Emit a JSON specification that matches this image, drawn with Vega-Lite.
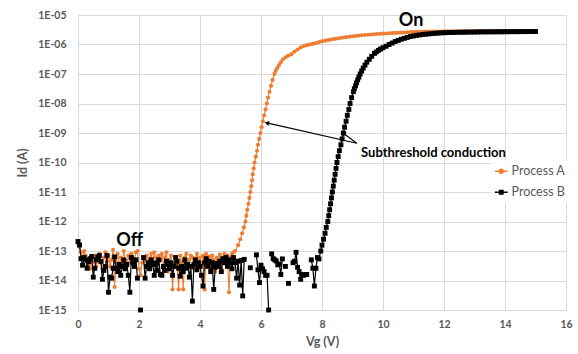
{
"$schema":"https://vega.github.io/schema/vega-lite/v6.json",
"width":488,"height":295,
"autosize":"none",
"padding":{"left":78,"top":15,"right":12,"bottom":44},
"background":"white",
"datasets":{
"iv":[
{"s":"A","v":0,"i":1.8e-13},{"s":"A","v":0.05,"i":1.4e-13},{"s":"A","v":0.1,"i":9e-14},{"s":"A","v":0.15,"i":6e-14},{"s":"A","v":0.2,"i":1e-13},{"s":"A","v":0.25,"i":7e-14},{"s":"A","v":0.3,"i":3e-14},{"s":"A","v":0.35,"i":5e-14},{"s":"A","v":0.4,"i":2.5e-14},{"s":"A","v":0.45,"i":6e-14},{"s":"A","v":0.5,"i":4e-14},{"s":"A","v":0.55,"i":7e-14},{"s":"A","v":0.6,"i":3e-14},{"s":"A","v":0.65,"i":5.5e-14},{"s":"A","v":0.7,"i":8e-14},{"s":"A","v":0.75,"i":4e-14},{"s":"A","v":0.8,"i":2.5e-14},{"s":"A","v":0.85,"i":6e-14},{"s":"A","v":0.9,"i":9e-14},{"s":"A","v":0.95,"i":4.5e-14},
{"s":"A","v":1,"i":7e-14},{"s":"A","v":1.05,"i":3e-14},{"s":"A","v":1.1,"i":5e-14},{"s":"A","v":1.15,"i":1.1e-13},{"s":"A","v":1.2,"i":6e-15},{"s":"A","v":1.25,"i":4e-14},{"s":"A","v":1.3,"i":8e-14},{"s":"A","v":1.35,"i":3e-14},{"s":"A","v":1.4,"i":6e-14},{"s":"A","v":1.45,"i":4e-14},{"s":"A","v":1.5,"i":1e-13},{"s":"A","v":1.55,"i":5e-14},{"s":"A","v":1.6,"i":3e-14},{"s":"A","v":1.65,"i":7e-14},{"s":"A","v":1.7,"i":4e-14},{"s":"A","v":1.75,"i":8e-14},{"s":"A","v":1.8,"i":3.5e-14},{"s":"A","v":1.85,"i":5.5e-14},{"s":"A","v":1.9,"i":9e-14},{"s":"A","v":1.95,"i":1e-13},
{"s":"A","v":2,"i":2.5e-14},{"s":"A","v":2.05,"i":1.5e-14},{"s":"A","v":2.1,"i":4e-14},{"s":"A","v":2.15,"i":6e-14},{"s":"A","v":2.2,"i":5e-14},{"s":"A","v":2.25,"i":7e-14},{"s":"A","v":2.3,"i":3e-14},{"s":"A","v":2.35,"i":5.5e-14},{"s":"A","v":2.4,"i":8e-14},{"s":"A","v":2.45,"i":4e-14},{"s":"A","v":2.5,"i":9e-14},{"s":"A","v":2.55,"i":6e-14},{"s":"A","v":2.6,"i":3.5e-14},{"s":"A","v":2.65,"i":7e-14},{"s":"A","v":2.7,"i":5e-14},{"s":"A","v":2.75,"i":8e-14},{"s":"A","v":2.8,"i":3e-14},{"s":"A","v":2.85,"i":6e-14},{"s":"A","v":2.9,"i":9e-14},{"s":"A","v":2.95,"i":2e-14},
{"s":"A","v":3,"i":5e-14},{"s":"A","v":3.05,"i":7e-14},{"s":"A","v":3.1,"i":5e-15},{"s":"A","v":3.15,"i":4e-14},{"s":"A","v":3.2,"i":6e-14},{"s":"A","v":3.25,"i":3e-14},{"s":"A","v":3.3,"i":5e-15},{"s":"A","v":3.35,"i":7e-14},{"s":"A","v":3.4,"i":4e-14},{"s":"A","v":3.45,"i":5e-15},{"s":"A","v":3.5,"i":6e-14},{"s":"A","v":3.55,"i":8e-14},{"s":"A","v":3.6,"i":3e-14},{"s":"A","v":3.65,"i":5e-14},{"s":"A","v":3.7,"i":7e-14},{"s":"A","v":3.75,"i":6e-14},{"s":"A","v":3.8,"i":2.5e-14},{"s":"A","v":3.85,"i":5.5e-14},{"s":"A","v":3.9,"i":8e-14},{"s":"A","v":3.95,"i":4e-14},
{"s":"A","v":4,"i":6e-14},{"s":"A","v":4.05,"i":3e-14},{"s":"A","v":4.1,"i":7e-14},{"s":"A","v":4.15,"i":5e-15},{"s":"A","v":4.2,"i":8e-14},{"s":"A","v":4.25,"i":4e-14},{"s":"A","v":4.3,"i":6.5e-14},{"s":"A","v":4.35,"i":3e-14},{"s":"A","v":4.4,"i":7e-14},{"s":"A","v":4.45,"i":5e-14},{"s":"A","v":4.5,"i":2e-14},{"s":"A","v":4.55,"i":6e-14},{"s":"A","v":4.6,"i":4e-14},{"s":"A","v":4.65,"i":7.5e-14},{"s":"A","v":4.7,"i":2.5e-14},{"s":"A","v":4.75,"i":5.5e-14},{"s":"A","v":4.8,"i":8e-14},{"s":"A","v":4.85,"i":4.5e-14},{"s":"A","v":4.9,"i":7e-14},{"s":"A","v":4.95,"i":4e-15},
{"s":"A","v":5,"i":6e-14},{"s":"A","v":5.05,"i":8e-14},{"s":"A","v":5.1,"i":9e-14},
{"s":"A","v":5.15,"i":1e-13},{"s":"A","v":5.25,"i":1.58e-13},{"s":"A","v":5.32,"i":2.51e-13},{"s":"A","v":5.38,"i":3.98e-13},{"s":"A","v":5.44,"i":6.31e-13},{"s":"A","v":5.49,"i":1e-12},{"s":"A","v":5.52,"i":1.58e-12},{"s":"A","v":5.55,"i":2.51e-12},{"s":"A","v":5.59,"i":3.98e-12},{"s":"A","v":5.62,"i":6.31e-12},{"s":"A","v":5.65,"i":1e-11},{"s":"A","v":5.68,"i":1.58e-11},{"s":"A","v":5.71,"i":2.51e-11},{"s":"A","v":5.73,"i":3.98e-11},{"s":"A","v":5.76,"i":6.31e-11},{"s":"A","v":5.79,"i":1e-10},{"s":"A","v":5.83,"i":1.58e-10},{"s":"A","v":5.87,"i":2.51e-10},{"s":"A","v":5.9,"i":3.98e-10},{"s":"A","v":5.94,"i":6.31e-10},{"s":"A","v":5.98,"i":1e-9},{"s":"A","v":6.02,"i":1.58e-9},{"s":"A","v":6.06,"i":2.51e-9},{"s":"A","v":6.1,"i":3.98e-9},{"s":"A","v":6.15,"i":6.31e-9},{"s":"A","v":6.19,"i":1e-8},{"s":"A","v":6.23,"i":1.58e-8},{"s":"A","v":6.28,"i":2.51e-8},{"s":"A","v":6.33,"i":3.98e-8},{"s":"A","v":6.38,"i":6.31e-8},{"s":"A","v":6.44,"i":1e-7},{"s":"A","v":6.48,"i":1.26e-7},{"s":"A","v":6.53,"i":1.58e-7},{"s":"A","v":6.59,"i":2e-7},{"s":"A","v":6.65,"i":2.51e-7},{"s":"A","v":6.72,"i":3.16e-7},{"s":"A","v":6.81,"i":3.7e-7},{"s":"A","v":6.9,"i":4.2e-7},{"s":"A","v":7,"i":4.7e-7},
{"s":"A","v":7.1,"i":5.75e-7},{"s":"A","v":7.2,"i":6.8e-7},{"s":"A","v":7.3,"i":7.9e-7},{"s":"A","v":7.4,"i":8.9e-7},{"s":"A","v":7.5,"i":9.5e-7},{"s":"A","v":7.6,"i":1e-6},{"s":"A","v":7.7,"i":1.05e-6},{"s":"A","v":7.8,"i":1.12e-6},{"s":"A","v":7.9,"i":1.2e-6},{"s":"A","v":8,"i":1.29e-6},{"s":"A","v":8.1,"i":1.35e-6},{"s":"A","v":8.2,"i":1.41e-6},{"s":"A","v":8.3,"i":1.48e-6},{"s":"A","v":8.4,"i":1.55e-6},{"s":"A","v":8.5,"i":1.6e-6},{"s":"A","v":8.6,"i":1.66e-6},{"s":"A","v":8.7,"i":1.72e-6},{"s":"A","v":8.8,"i":1.78e-6},{"s":"A","v":8.9,"i":1.84e-6},{"s":"A","v":9,"i":1.9e-6},
{"s":"A","v":9.1,"i":1.95e-6},{"s":"A","v":9.2,"i":2e-6},{"s":"A","v":9.3,"i":2.05e-6},{"s":"A","v":9.4,"i":2.09e-6},{"s":"A","v":9.5,"i":2.14e-6},{"s":"A","v":9.6,"i":2.19e-6},{"s":"A","v":9.7,"i":2.23e-6},{"s":"A","v":9.8,"i":2.26e-6},{"s":"A","v":9.9,"i":2.3e-6},{"s":"A","v":10,"i":2.34e-6},{"s":"A","v":10.1,"i":2.37e-6},{"s":"A","v":10.2,"i":2.41e-6},{"s":"A","v":10.3,"i":2.44e-6},{"s":"A","v":10.4,"i":2.47e-6},{"s":"A","v":10.5,"i":2.5e-6},{"s":"A","v":10.6,"i":2.53e-6},{"s":"A","v":10.7,"i":2.56e-6},{"s":"A","v":10.8,"i":2.6e-6},{"s":"A","v":10.9,"i":2.63e-6},{"s":"A","v":11,"i":2.65e-6},
{"s":"A","v":11.1,"i":2.67e-6},{"s":"A","v":11.2,"i":2.69e-6},{"s":"A","v":11.3,"i":2.71e-6},{"s":"A","v":11.4,"i":2.72e-6},{"s":"A","v":11.5,"i":2.73e-6},{"s":"A","v":11.6,"i":2.74e-6},{"s":"A","v":11.7,"i":2.75e-6},{"s":"A","v":11.8,"i":2.76e-6},{"s":"A","v":11.9,"i":2.77e-6},{"s":"A","v":12,"i":2.78e-6},{"s":"A","v":12.1,"i":2.79e-6},{"s":"A","v":12.2,"i":2.8e-6},{"s":"A","v":12.3,"i":2.8e-6},{"s":"A","v":12.4,"i":2.8e-6},{"s":"A","v":12.5,"i":2.81e-6},{"s":"A","v":12.6,"i":2.81e-6},{"s":"A","v":12.7,"i":2.81e-6},{"s":"A","v":12.8,"i":2.82e-6},{"s":"A","v":12.9,"i":2.82e-6},{"s":"A","v":13,"i":2.82e-6},
{"s":"A","v":13.1,"i":2.82e-6},{"s":"A","v":13.2,"i":2.83e-6},{"s":"A","v":13.3,"i":2.83e-6},{"s":"A","v":13.4,"i":2.83e-6},{"s":"A","v":13.5,"i":2.83e-6},{"s":"A","v":13.6,"i":2.83e-6},{"s":"A","v":13.7,"i":2.84e-6},{"s":"A","v":13.8,"i":2.84e-6},{"s":"A","v":13.9,"i":2.84e-6},{"s":"A","v":14,"i":2.84e-6},{"s":"A","v":14.1,"i":2.84e-6},{"s":"A","v":14.2,"i":2.84e-6},{"s":"A","v":14.3,"i":2.85e-6},{"s":"A","v":14.4,"i":2.85e-6},{"s":"A","v":14.5,"i":2.85e-6},{"s":"A","v":14.6,"i":2.85e-6},{"s":"A","v":14.7,"i":2.85e-6},{"s":"A","v":14.8,"i":2.85e-6},{"s":"A","v":14.9,"i":2.85e-6},{"s":"A","v":15,"i":2.85e-6},
{"s":"B","v":0,"i":2.1e-13},{"s":"B","v":0.05,"i":1.6e-13},{"s":"B","v":0.1,"i":5.5e-14},{"s":"B","v":0.15,"i":3.3e-14},{"s":"B","v":0.2,"i":6e-14},{"s":"B","v":0.25,"i":5e-14},{"s":"B","v":0.3,"i":2.6e-14},{"s":"B","v":0.35,"i":4.4e-14},{"s":"B","v":0.4,"i":5.5e-14},{"s":"B","v":0.45,"i":6.5e-14},{"s":"B","v":0.5,"i":1.3e-14},{"s":"B","v":0.55,"i":2.6e-14},{"s":"B","v":0.6,"i":5e-14},{"s":"B","v":0.65,"i":6.3e-14},{"s":"B","v":0.7,"i":7e-14},{"s":"B","v":0.75,"i":4.4e-14},{"s":"B","v":0.8,"i":1.1e-14},{"s":"B","v":0.85,"i":2.2e-14},{"s":"B","v":0.9,"i":3e-14},{"s":"B","v":0.95,"i":7e-14},
{"s":"B","v":1,"i":4e-15},{"s":"B","v":1.05,"i":1.3e-14},{"s":"B","v":1.1,"i":1.2e-14},{"s":"B","v":1.15,"i":2.6e-14},{"s":"B","v":1.2,"i":6.3e-14},{"s":"B","v":1.25,"i":2.6e-14},{"s":"B","v":1.3,"i":2e-14},{"s":"B","v":1.35,"i":3.5e-14},{"s":"B","v":1.4,"i":1.5e-14},{"s":"B","v":1.45,"i":3e-14},{"s":"B","v":1.5,"i":5e-14},{"s":"B","v":1.55,"i":2.5e-14},{"s":"B","v":1.6,"i":3.5e-14},{"s":"B","v":1.65,"i":1.5e-14},{"s":"B","v":1.7,"i":4e-15},{"s":"B","v":1.75,"i":6e-14},{"s":"B","v":1.8,"i":4e-14},{"s":"B","v":1.85,"i":3e-14},{"s":"B","v":1.9,"i":5e-14},{"s":"B","v":1.95,"i":1.2e-14},
{"s":"B","v":2,"i":null},{"s":"B","v":2.05,"i":1e-15},{"s":"B","v":2.1,"i":null},{"s":"B","v":2.15,"i":6e-14},{"s":"B","v":2.2,"i":1.2e-14},{"s":"B","v":2.25,"i":3e-14},{"s":"B","v":2.3,"i":4e-14},{"s":"B","v":2.35,"i":2.5e-14},{"s":"B","v":2.4,"i":5e-14},{"s":"B","v":2.45,"i":3.5e-14},{"s":"B","v":2.5,"i":1.5e-14},{"s":"B","v":2.55,"i":4e-14},{"s":"B","v":2.6,"i":2.2e-14},{"s":"B","v":2.65,"i":5e-14},{"s":"B","v":2.7,"i":1.6e-14},{"s":"B","v":2.75,"i":1.5e-14},{"s":"B","v":2.8,"i":3e-14},{"s":"B","v":2.85,"i":2.2e-14},{"s":"B","v":2.9,"i":4.5e-14},{"s":"B","v":2.95,"i":3.5e-14},
{"s":"B","v":3,"i":2.5e-14},{"s":"B","v":3.05,"i":4e-14},{"s":"B","v":3.1,"i":1.5e-14},{"s":"B","v":3.15,"i":3e-14},{"s":"B","v":3.2,"i":6e-14},{"s":"B","v":3.25,"i":4.5e-14},{"s":"B","v":3.3,"i":2.6e-14},{"s":"B","v":3.35,"i":1.4e-14},{"s":"B","v":3.4,"i":3e-14},{"s":"B","v":3.45,"i":2e-14},{"s":"B","v":3.5,"i":5e-14},{"s":"B","v":3.55,"i":2.6e-14},{"s":"B","v":3.6,"i":3.5e-14},{"s":"B","v":3.65,"i":1.3e-14},{"s":"B","v":3.7,"i":3e-14},{"s":"B","v":3.75,"i":2e-15},{"s":"B","v":3.8,"i":3.5e-14},{"s":"B","v":3.85,"i":5e-14},{"s":"B","v":3.9,"i":2.3e-14},{"s":"B","v":3.95,"i":4e-14},
{"s":"B","v":4,"i":3e-14},{"s":"B","v":4.05,"i":1.5e-14},{"s":"B","v":4.1,"i":6.5e-15},{"s":"B","v":4.15,"i":4e-14},{"s":"B","v":4.2,"i":5.5e-14},{"s":"B","v":4.25,"i":3e-14},{"s":"B","v":4.3,"i":4.5e-14},{"s":"B","v":4.35,"i":2e-14},{"s":"B","v":4.4,"i":4e-14},{"s":"B","v":4.45,"i":5e-15},{"s":"B","v":4.5,"i":2.8e-14},{"s":"B","v":4.55,"i":3.8e-14},{"s":"B","v":4.6,"i":3e-14},{"s":"B","v":4.65,"i":4.5e-14},{"s":"B","v":4.7,"i":2e-14},{"s":"B","v":4.75,"i":5.5e-14},{"s":"B","v":4.8,"i":4e-14},{"s":"B","v":4.85,"i":6e-14},{"s":"B","v":4.9,"i":3e-14},{"s":"B","v":4.95,"i":5e-14},
{"s":"B","v":5,"i":4e-14},{"s":"B","v":5.05,"i":2.5e-14},{"s":"B","v":5.1,"i":6e-14},{"s":"B","v":5.15,"i":4e-14},{"s":"B","v":5.2,"i":1.2e-14},{"s":"B","v":5.25,"i":4.5e-14},{"s":"B","v":5.3,"i":7e-15},{"s":"B","v":5.35,"i":4.8e-14},{"s":"B","v":5.4,"i":3e-15},{"s":"B","v":5.45,"i":5.2e-14},{"s":"B","v":5.5,"i":null},{"s":"B","v":5.55,"i":null},{"s":"B","v":5.6,"i":null},{"s":"B","v":5.65,"i":2.7e-14},{"s":"B","v":5.7,"i":null},{"s":"B","v":5.75,"i":null},{"s":"B","v":5.8,"i":null},{"s":"B","v":5.85,"i":7.4e-14},{"s":"B","v":5.9,"i":2.3e-14},{"s":"B","v":5.95,"i":8.5e-15},
{"s":"B","v":6,"i":3.3e-14},{"s":"B","v":6.05,"i":2.5e-14},{"s":"B","v":6.1,"i":2e-14},{"s":"B","v":6.15,"i":1.5e-14},{"s":"B","v":6.2,"i":1.5e-14},{"s":"B","v":6.25,"i":1e-15},{"s":"B","v":6.3,"i":null},{"s":"B","v":6.35,"i":8e-14},{"s":"B","v":6.4,"i":5.5e-14},{"s":"B","v":6.45,"i":5e-14},{"s":"B","v":6.5,"i":4.6e-14},{"s":"B","v":6.55,"i":3.4e-14},{"s":"B","v":6.6,"i":3.6e-14},{"s":"B","v":6.65,"i":1.6e-14},{"s":"B","v":6.7,"i":5.4e-14},{"s":"B","v":6.75,"i":null},{"s":"B","v":6.8,"i":3e-14},{"s":"B","v":6.85,"i":null},{"s":"B","v":6.9,"i":8e-15},{"s":"B","v":6.95,"i":null},
{"s":"B","v":7,"i":null},{"s":"B","v":7.05,"i":4e-14},{"s":"B","v":7.1,"i":4.5e-14},{"s":"B","v":7.15,"i":9e-14},{"s":"B","v":7.2,"i":2.8e-14},{"s":"B","v":7.25,"i":2e-14},{"s":"B","v":7.3,"i":1.1e-14},{"s":"B","v":7.35,"i":1.6e-14},{"s":"B","v":7.4,"i":1.5e-14},{"s":"B","v":7.45,"i":1.6e-14},{"s":"B","v":7.5,"i":1.6e-14},{"s":"B","v":7.55,"i":null},{"s":"B","v":7.6,"i":null},{"s":"B","v":7.65,"i":5e-14},{"s":"B","v":7.7,"i":2.6e-14},{"s":"B","v":7.75,"i":6.5e-15},{"s":"B","v":7.8,"i":2.6e-14},{"s":"B","v":7.85,"i":6e-14},{"s":"B","v":7.9,"i":5.4e-14},
{"s":"B","v":7.96,"i":1e-13},{"s":"B","v":8,"i":1.58e-13},{"s":"B","v":8.05,"i":2.51e-13},{"s":"B","v":8.1,"i":3.98e-13},{"s":"B","v":8.14,"i":6.31e-13},{"s":"B","v":8.19,"i":1e-12},{"s":"B","v":8.22,"i":1.58e-12},{"s":"B","v":8.25,"i":2.51e-12},{"s":"B","v":8.28,"i":3.98e-12},{"s":"B","v":8.31,"i":6.31e-12},{"s":"B","v":8.34,"i":1e-11},{"s":"B","v":8.37,"i":1.58e-11},{"s":"B","v":8.4,"i":2.51e-11},{"s":"B","v":8.43,"i":3.98e-11},{"s":"B","v":8.46,"i":6.31e-11},{"s":"B","v":8.49,"i":1e-10},{"s":"B","v":8.53,"i":1.58e-10},{"s":"B","v":8.57,"i":2.51e-10},{"s":"B","v":8.62,"i":3.98e-10},{"s":"B","v":8.66,"i":6.31e-10},{"s":"B","v":8.7,"i":1e-9},{"s":"B","v":8.74,"i":1.58e-9},{"s":"B","v":8.79,"i":2.51e-9},{"s":"B","v":8.83,"i":3.98e-9},{"s":"B","v":8.88,"i":6.31e-9},{"s":"B","v":8.92,"i":1e-8},{"s":"B","v":8.97,"i":1.58e-8},{"s":"B","v":9.03,"i":2.51e-8},{"s":"B","v":9.06,"i":3.16e-8},{"s":"B","v":9.1,"i":3.98e-8},{"s":"B","v":9.13,"i":5e-8},{"s":"B","v":9.17,"i":6.31e-8},{"s":"B","v":9.21,"i":7.9e-8},{"s":"B","v":9.25,"i":1e-7},{"s":"B","v":9.3,"i":1.26e-7},{"s":"B","v":9.35,"i":1.58e-7},{"s":"B","v":9.41,"i":2e-7},{"s":"B","v":9.47,"i":2.51e-7},{"s":"B","v":9.55,"i":3.16e-7},{"s":"B","v":9.63,"i":3.98e-7},{"s":"B","v":9.72,"i":5e-7},{"s":"B","v":9.78,"i":5.6e-7},{"s":"B","v":9.85,"i":6.31e-7},{"s":"B","v":9.92,"i":7e-7},{"s":"B","v":10,"i":7.8e-7},
{"s":"B","v":10.1,"i":8.7e-7},{"s":"B","v":10.2,"i":1e-6},{"s":"B","v":10.3,"i":1.12e-6},{"s":"B","v":10.4,"i":1.26e-6},{"s":"B","v":10.5,"i":1.38e-6},{"s":"B","v":10.6,"i":1.51e-6},{"s":"B","v":10.7,"i":1.62e-6},{"s":"B","v":10.8,"i":1.74e-6},{"s":"B","v":10.9,"i":1.86e-6},{"s":"B","v":11,"i":1.95e-6},{"s":"B","v":11.1,"i":2.04e-6},{"s":"B","v":11.2,"i":2.11e-6},{"s":"B","v":11.3,"i":2.19e-6},{"s":"B","v":11.4,"i":2.24e-6},{"s":"B","v":11.5,"i":2.29e-6},{"s":"B","v":11.6,"i":2.34e-6},{"s":"B","v":11.7,"i":2.4e-6},{"s":"B","v":11.8,"i":2.44e-6},{"s":"B","v":11.9,"i":2.47e-6},{"s":"B","v":12,"i":2.51e-6},
{"s":"B","v":12.1,"i":2.53e-6},{"s":"B","v":12.2,"i":2.55e-6},{"s":"B","v":12.3,"i":2.57e-6},{"s":"B","v":12.4,"i":2.58e-6},{"s":"B","v":12.5,"i":2.6e-6},{"s":"B","v":12.6,"i":2.61e-6},{"s":"B","v":12.7,"i":2.62e-6},{"s":"B","v":12.8,"i":2.63e-6},{"s":"B","v":12.9,"i":2.64e-6},{"s":"B","v":13,"i":2.65e-6},{"s":"B","v":13.1,"i":2.66e-6},{"s":"B","v":13.2,"i":2.67e-6},{"s":"B","v":13.3,"i":2.67e-6},{"s":"B","v":13.4,"i":2.68e-6},{"s":"B","v":13.5,"i":2.68e-6},{"s":"B","v":13.6,"i":2.69e-6},{"s":"B","v":13.7,"i":2.69e-6},{"s":"B","v":13.8,"i":2.7e-6},{"s":"B","v":13.9,"i":2.7e-6},{"s":"B","v":14,"i":2.71e-6},
{"s":"B","v":14.1,"i":2.71e-6},{"s":"B","v":14.2,"i":2.72e-6},{"s":"B","v":14.3,"i":2.72e-6},{"s":"B","v":14.4,"i":2.73e-6},{"s":"B","v":14.5,"i":2.73e-6},{"s":"B","v":14.6,"i":2.74e-6},{"s":"B","v":14.7,"i":2.74e-6},{"s":"B","v":14.8,"i":2.75e-6},{"s":"B","v":14.9,"i":2.75e-6},{"s":"B","v":15,"i":2.76e-6}
],
"txt":[
{"t":"On","v":10.92,"i":4.24e-6},
{"t":"Off","v":1.69,"i":1.48e-13},
{"t":"Subthreshold conduction","v":9.28,"i":1.51e-10}
],
"arr":[
{"a":1,"v":9.14,"i":4.5e-10,"v2":6.19,"i2":2.2e-9},
{"a":2,"v":9.14,"i":4.5e-10,"v2":8.7,"i2":9.8e-10}
]
},
"layer":[
{
"data":{"name":"iv"},
"encoding":{
"x":{"field":"v","type":"quantitative","title":"Vg (V)","scale":{"domain":[0,16],"nice":false},"axis":{"values":[0,2,4,6,8,10,12,14,16],"labelPadding":9,"titlePadding":6,"labelFlush":false}},
"y":{"field":"i","type":"quantitative","title":"Id (A)","scale":{"type":"log","domain":[1e-15,1e-5],"nice":false},"axis":{"values":[1e-15,1e-14,1e-13,1e-12,1e-11,1e-10,1e-9,1e-8,1e-7,1e-6,1e-5],"labelExpr":"'1E-' + (round(-log(datum.value)/LN10) < 10 ? '0' : '') + round(-log(datum.value)/LN10)","labelPadding":12,"titlePadding":8,"labelOverlap":false}}
},
"layer":[
{"transform":[{"filter":"datum.s === 'A'"}],"mark":{"type":"line","color":"#ED7D31","strokeWidth":1.1,"invalid":"break-paths-filter-domains"}},
{"transform":[{"filter":"datum.s === 'A'"}],"mark":{"type":"point","color":"#ED7D31","filled":true,"shape":"circle","size":17,"opacity":1}},
{"transform":[{"filter":"datum.s === 'B'"}],"mark":{"type":"line","color":"#000000","strokeWidth":1.2,"invalid":"break-paths-filter-domains"}},
{"transform":[{"filter":"datum.s === 'B'"}],"mark":{"type":"point","color":"#000000","filled":true,"shape":"square","size":24,"opacity":1}},
{"transform":[{"filter":"false"}],"mark":{"type":"point","filled":false,"strokeWidth":1.3,"opacity":1},
"encoding":{
"color":{"field":"s","type":"nominal","scale":{"domain":["A","B"],"range":["#ED7D31","#000000"]},
"legend":{"orient":"none","legendX":413,"legendY":146,"title":null,"direction":"vertical","labelExpr":"'Process ' + datum.label","fillColor":"white","padding":4,"labelFont":"Lato","labelFontSize":12.5,"labelColor":"#595959","symbolSize":64,"symbolStrokeWidth":1.3,"rowPadding":8,"labelOffset":4}},
"shape":{"field":"s","type":"nominal","scale":{"domain":["A","B"],"range":["M-1.6,0H1.6M0.5,0A0.5,0.5,0,1,1,-0.5,0A0.5,0.5,0,1,1,0.5,0ZM0.2,0A0.2,0.2,0,1,1,-0.2,0A0.2,0.2,0,1,1,0.2,0Z","M-1.6,0H1.6M-0.45,-0.45H0.45V0.45H-0.45ZM-0.15,-0.15H0.15V0.15H-0.15Z"]},
"legend":{"orient":"none","legendX":413,"legendY":146,"title":null,"direction":"vertical","labelExpr":"'Process ' + datum.label","fillColor":"white","padding":4,"labelFont":"Lato","labelFontSize":12.5,"labelColor":"#595959","symbolSize":64,"symbolStrokeWidth":1.3,"rowPadding":8,"labelOffset":4}}}}
]
},
{
"data":{"name":"arr"},
"mark":{"type":"rule","color":"#000000","strokeWidth":1.1},
"encoding":{
"x":{"field":"v","type":"quantitative","title":"Vg (V)","scale":{"domain":[0,16],"nice":false}},
"y":{"field":"i","type":"quantitative","title":"Id (A)","scale":{"type":"log","domain":[1e-15,1e-5],"nice":false}},
"x2":{"field":"v2"},"y2":{"field":"i2"}}
},
{
"data":{"name":"arr"},
"transform":[{"filter":"datum.a === 1"}],
"mark":{"type":"point","shape":"triangle-up","filled":true,"color":"#000000","size":26,"opacity":1,"angle":283},
"encoding":{
"x":{"field":"v2","type":"quantitative","title":"Vg (V)","scale":{"domain":[0,16],"nice":false}},
"y":{"field":"i2","type":"quantitative","title":"Id (A)","scale":{"type":"log","domain":[1e-15,1e-5],"nice":false}}}
},
{
"data":{"name":"arr"},
"transform":[{"filter":"datum.a === 2"}],
"mark":{"type":"point","shape":"triangle-up","filled":true,"color":"#000000","size":26,"opacity":1,"angle":307},
"encoding":{
"x":{"field":"v2","type":"quantitative","title":"Vg (V)","scale":{"domain":[0,16],"nice":false}},
"y":{"field":"i2","type":"quantitative","title":"Id (A)","scale":{"type":"log","domain":[1e-15,1e-5],"nice":false}}}
},
{
"data":{"name":"txt"},
"transform":[{"filter":"datum.t !== 'Subthreshold conduction'"}],
"mark":{"type":"text","font":"Lato","fontWeight":"bold","fontSize":18,"color":"#000000","align":"center","baseline":"alphabetic"},
"encoding":{
"x":{"field":"v","type":"quantitative","title":"Vg (V)","scale":{"domain":[0,16],"nice":false}},
"y":{"field":"i","type":"quantitative","title":"Id (A)","scale":{"type":"log","domain":[1e-15,1e-5],"nice":false}},
"text":{"field":"t"}}
},
{
"data":{"name":"txt"},
"transform":[{"filter":"datum.t === 'Subthreshold conduction'"}],
"mark":{"type":"text","font":"Lato","fontWeight":"bold","fontSize":13,"color":"#000000","align":"left","baseline":"alphabetic"},
"encoding":{
"x":{"field":"v","type":"quantitative","title":"Vg (V)","scale":{"domain":[0,16],"nice":false}},
"y":{"field":"i","type":"quantitative","title":"Id (A)","scale":{"type":"log","domain":[1e-15,1e-5],"nice":false}},
"text":{"field":"t"}}
}
],
"config":{
"view":{"stroke":null},
"axis":{"grid":true,"gridColor":"#d9d9d9","gridWidth":1,"domainColor":"#d9d9d9","domainWidth":1,"ticks":false,"labelFont":"Lato","labelFontSize":10.5,"labelFontWeight":"bold","labelColor":"#595959","titleFont":"Lato","titleFontSize":12.5,"titleFontWeight":"bold","titleColor":"#595959"}
}
}
